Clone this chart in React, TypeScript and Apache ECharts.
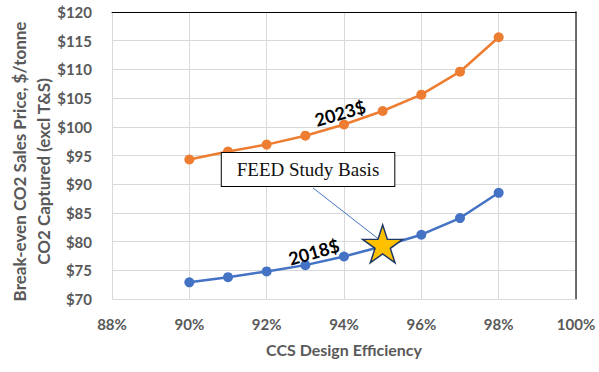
import React, { useEffect, useRef } from "react";
import * as echarts from "echarts";

const efficiency = [90, 91, 92, 93, 94, 95, 96, 97, 98];
const cost2023 = [94.3, 95.7, 96.9, 98.45, 100.4, 102.75, 105.6, 109.6, 115.6];
const cost2018 = [72.9, 73.8, 74.8, 75.9, 77.4, 79.2, 81.2, 84.1, 88.5];
const feedBasis = [95, 79.6];
const label2023Pos = [93.9, 102.4];
const label2018Pos = [93.22, 78.2];
const boxPos = [93.07, 92.56];
const leaderFrom = [93.2, 89.34];
const leaderTo = [94.96, 80.1];

const GRAY = "#595959";
const FONT = "Lato";
const STAR =
  "path://M50,0 L61.2,34.5 L97.6,34.5 L68.2,55.9 L79.4,90.5 L50,69.1 L20.6,90.5 L31.8,55.9 L2.4,34.5 L38.8,34.5 Z";

export default function App() {
  const ref = useRef<HTMLDivElement>(null);
  useEffect(() => {
    const chart = echarts.init(ref.current!, null, { renderer: "svg" });
    const tagLabel = (text: string) => ({
      show: true,
      position: "inside",
      formatter: text,
      rotate: 16,
      color: "#000",
      fontFamily: FONT,
      fontWeight: "bold",
      fontSize: 18,
    });
    const axisText = {
      color: GRAY,
      fontFamily: FONT,
      fontWeight: "bold",
      fontSize: 15,
    };
    chart.setOption({
      animation: false,
      backgroundColor: "#fff",
      grid: { left: 112, top: 12, right: 23, bottom: 73 },
      xAxis: [
        {
          type: "value",
          min: 88,
          max: 100,
          interval: 2,
          axisLine: { show: true, lineStyle: { color: "#d9d9d9", width: 1 } },
          axisTick: { show: false },
          splitLine: { show: true, lineStyle: { color: "#d9d9d9" } },
          axisLabel: { ...axisText, formatter: (v: number) => v + "%", margin: 17 },
        },
        {
          type: "value",
          position: "top",
          min: 88,
          max: 100,
          interval: 2,
          axisLine: { show: true, lineStyle: { color: "#000", width: 1 } },
          axisTick: { show: false },
          axisLabel: { show: false },
          splitLine: { show: false },
        },
      ],
      yAxis: [
        {
          type: "value",
          min: 70,
          max: 120,
          interval: 5,
          axisLine: { show: true, lineStyle: { color: "#d9d9d9", width: 1 } },
          axisTick: { show: false },
          splitLine: { show: true, lineStyle: { color: "#d9d9d9" } },
          axisLabel: { ...axisText, formatter: (v: number) => "$" + v, margin: 20 },
        },
        {
          type: "value",
          position: "right",
          min: 70,
          max: 120,
          interval: 5,
          axisLine: { show: true, lineStyle: { color: "#404040", width: 1.5 } },
          axisTick: { show: false },
          axisLabel: { show: false },
          splitLine: { show: false },
        },
      ],
      series: [
        {
          name: "2023$",
          type: "line",
          data: efficiency.map((e, i) => [e, cost2023[i]]),
          symbol: "circle",
          symbolSize: 10,
          lineStyle: { color: "#ed7d31", width: 2.5 },
          itemStyle: { color: "#ed7d31" },
          z: 2,
          markPoint: {
            symbol: "circle",
            symbolSize: 1,
            itemStyle: { color: "rgba(0,0,0,0)" },
            data: [{ coord: label2023Pos, label: tagLabel("2023$") }],
          },
        },
        {
          name: "2018$",
          type: "line",
          data: efficiency.map((e, i) => [e, cost2018[i]]),
          symbol: "circle",
          symbolSize: 10,
          lineStyle: { color: "#4472c4", width: 2.5 },
          itemStyle: { color: "#4472c4" },
          z: 2,
          markPoint: {
            symbol: "circle",
            symbolSize: 1,
            itemStyle: { color: "rgba(0,0,0,0)" },
            data: [{ coord: label2018Pos, label: tagLabel("2018$") }],
          },
        },
        {
          name: "FEED Study Basis",
          type: "scatter",
          data: [feedBasis],
          symbol: STAR,
          symbolSize: [40, 38],
          itemStyle: { color: "#ffc000", borderColor: "#203864", borderWidth: 1.5, opacity: 1 },
          emphasis: { disabled: true },
          z: 5,
          markLine: {
            silent: true,
            symbol: ["none", "none"],
            lineStyle: { color: "#4472c4", width: 1, type: "solid" },
            label: { show: false },
            data: [[{ coord: leaderFrom }, { coord: leaderTo }]],
          },
          markPoint: {
            symbol: "circle",
            symbolSize: 1,
            itemStyle: { color: "rgba(0,0,0,0)" },
            data: [
              {
                coord: boxPos,
                label: {
                  show: true,
                  position: "inside",
                  formatter: "FEED Study Basis",
                  color: "#111",
                  fontFamily: "Liberation Serif",
                  fontSize: 19,
                  backgroundColor: "#fff",
                  borderColor: "#000",
                  borderWidth: 1,
                  padding: [7, 15, 7, 15],
                },
              },
            ],
          },
        },
      ],
      graphic: [
        {
          type: "text",
          x: 19,
          y: 161.5,
          rotation: Math.PI / 2,
          style: {
            text: "Break-even CO2 Sales Price, $/tonne",
            fill: GRAY,
            fontFamily: FONT,
            fontWeight: "bold",
            fontSize: 17,
            align: "center",
            verticalAlign: "middle",
          },
        },
        {
          type: "text",
          x: 43,
          y: 171.5,
          rotation: Math.PI / 2,
          style: {
            text: "CO2 Captured (excl T&S)",
            fill: GRAY,
            fontFamily: FONT,
            fontWeight: "bold",
            fontSize: 17,
            align: "center",
            verticalAlign: "middle",
          },
        },
        {
          type: "text",
          x: 344,
          y: 349,
          style: {
            text: "CCS Design Efficiency",
            fill: GRAY,
            fontFamily: FONT,
            fontWeight: "bold",
            fontSize: 16,
            align: "center",
            verticalAlign: "middle",
          },
        },
      ],
    });
    return () => chart.dispose();
  }, []);
  return (
    <div
      ref={ref}
      style={{ position: "absolute", left: 0, top: 0, width: 599, height: 372 }}
    />
  );
}
